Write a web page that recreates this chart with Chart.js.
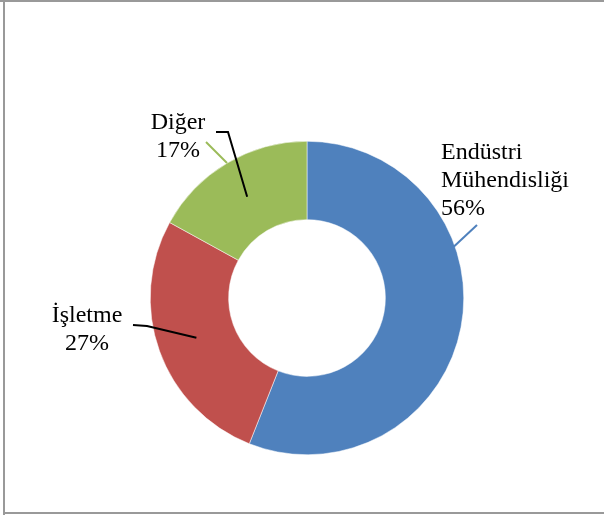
<!DOCTYPE html>
<html>
  <head>
    <title>Doughnut</title>
    <script src="https://cdn.jsdelivr.net/npm/chart.js@4/dist/chart.umd.min.js"></script>
    <style>
      html, body { margin: 0; padding: 0; background: #fff; }
      #container { width: 604px; height: 518px; }
    </style>
  </head>

  <body>
    <div id="container">
      <canvas id="canvas" width="604" height="518"></canvas>
    </div>
    <script>
      const labels = ['Endüstri Mühendisliği', 'İşletme', 'Diğer'];
      const shares = [56, 27, 17];
      const colors = ['#4f81bd', '#c0504d', '#9bbb59'];

      // where each label's text sits and how its leader line runs
      const labelLayout = [
        { lines: ['Endüstri', 'Mühendisliği'], x: 441, y: 159, align: 'left',
          color: '#4f81bd', leader: [[477, 225], [432, 267]] },
        { lines: ['İşletme'], x: 87, y: 322, align: 'center',
          color: '#000', leader: [[133, 325], [147, 326]] },
        { lines: ['Diğer'], x: 178, y: 129, align: 'center',
          color: '#000', leader: [[216, 132], [228, 132]], extra: [[206, 142], [227, 163]] },
      ];

      const framePlugin = {
        id: 'frame',
        beforeDraw(chart) {
          const ctx = chart.ctx;
          ctx.save();
          ctx.fillStyle = '#fff';
          ctx.fillRect(0, 0, chart.width, chart.height);
          ctx.fillStyle = '#999';
          ctx.fillRect(0, 0, chart.width, 2);
          ctx.fillRect(3, 0, 2, 515);
          ctx.fillRect(3, 512, chart.width, 2);
          ctx.restore();
        },
      };

      const labelPlugin = {
        id: 'sliceLabels',
        afterDraw(chart) {
          const ctx = chart.ctx;
          const arcs = chart.getDatasetMeta(0).data;
          ctx.save();
          ctx.font = '24px "Liberation Serif", "Times New Roman", serif';
          ctx.fillStyle = '#000';
          ctx.textBaseline = 'alphabetic';
          labelLayout.forEach((lay, i) => {
            const text = lay.lines.concat([shares[i] + '%']);
            ctx.textAlign = lay.align;
            text.forEach((t, k) => ctx.fillText(t, lay.x, lay.y + k * 28));

            ctx.lineWidth = 2;
            if (lay.extra) {
              ctx.strokeStyle = colors[i];
              ctx.beginPath();
              ctx.moveTo(lay.extra[0][0], lay.extra[0][1]);
              ctx.lineTo(lay.extra[1][0], lay.extra[1][1]);
              ctx.stroke();
            }
            ctx.strokeStyle = lay.color;
            ctx.beginPath();
            ctx.moveTo(lay.leader[0][0], lay.leader[0][1]);
            lay.leader.slice(1).forEach((p) => ctx.lineTo(p[0], p[1]));
            if (i > 0) {
              // black leaders end in the middle of their slice
              const c = arcs[i].getCenterPoint();
              ctx.lineTo(c.x, c.y);
            }
            ctx.stroke();
          });
          ctx.restore();
        },
      };

      window.onload = () => {
        const ctx = document.getElementById('canvas').getContext('2d');
        new Chart(ctx, {
          type: 'doughnut',
          data: {
            labels: labels,
            datasets: [
              {
                data: shares,
                backgroundColor: colors,
                borderColor: '#fff',
                borderWidth: 0.5,
              },
            ],
          },
          options: {
            responsive: false,
            animation: false,
            cutout: '50%',
            layout: {
              padding: { left: 150, right: 140, top: 141, bottom: 63 },
            },
            plugins: {
              legend: { display: false },
              tooltip: { enabled: false },
            },
          },
          plugins: [framePlugin, labelPlugin],
        });
      };
    </script>
  </body>
</html>
